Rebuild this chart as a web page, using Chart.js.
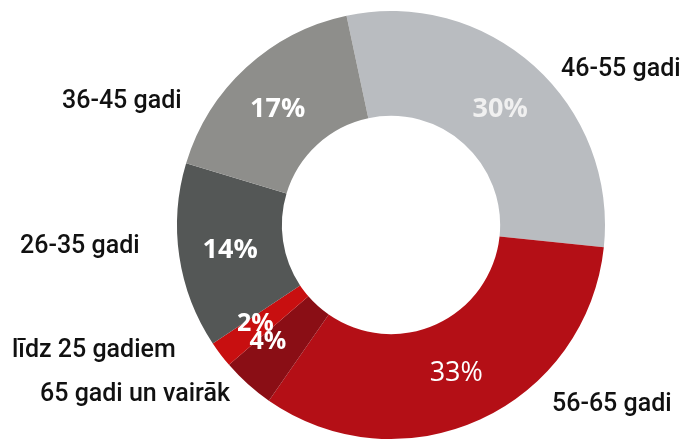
<!DOCTYPE html>
<html>
<head>
<meta charset="utf-8">
<script src="https://cdn.jsdelivr.net/npm/chart.js@4.4.1/dist/chart.umd.min.js"></script>
<style>
  html, body { margin: 0; padding: 0; background: #fff; }
  #wrap { width: 692px; height: 441px; position: relative; }
</style>
</head>
<body>
<div id="wrap"><canvas id="chart"></canvas></div>
<script>
// age groups, clockwise from the top
const labels = ['46-55 gadi', '56-65 gadi', '65 gadi un vairāk', 'līdz 25 gadiem', '26-35 gadi', '36-45 gadi'];
const shares = [30, 33, 4, 2, 14, 17];
const pctLabels = ['30%', '33%', '4%', '2%', '14%', '17%'];
const colors = ['#b9bcc0', '#b40f16', '#8a0e15', '#c80f10', '#545756', '#8e8e8b'];

// where the category names sit (text only)
const namePos = [
    { x: 561, y: 76 },
    { x: 552, y: 411 },
    { x: 40, y: 401 },
    { x: 12, y: 357 },
    { x: 20, y: 253 },
    { x: 62, y: 108 }
];
// small nudges for the percent texts off the slice centre
const pctNudge = [[1, 4], [-2, 1], [-15, -3], [-7, 1], [-1, 2], [-4, 3]];
const pctStyle = ['bold 27px', 'normal 27px', 'bold 25px', 'bold 25px', 'bold 27px', 'bold 27px'];

const labelPlugin = {
    id: 'sliceLabels',
    afterDatasetsDraw(chart) {
        const ctx = chart.ctx;
        const arcs = chart.getDatasetMeta(0).data;
        ctx.save();
        ctx.textBaseline = 'middle';
        ctx.textAlign = 'center';
        arcs.forEach((arc, i) => {
            const p = arc.tooltipPosition();
            ctx.font = pctStyle[i] + ' "Open Sans"';
            ctx.fillStyle = i === 0 ? '#f0f0f0' : '#ffffff';
            ctx.fillText(pctLabels[i], p.x + pctNudge[i][0], p.y + pctNudge[i][1]);
        });
        ctx.textAlign = 'left';
        ctx.textBaseline = 'alphabetic';
        ctx.font = '500 25px Roboto';
        ctx.fillStyle = '#111';
        labels.forEach((t, i) => ctx.fillText(t, namePos[i].x, namePos[i].y));
        ctx.restore();
    }
};

new Chart(document.getElementById('chart'), {
    type: 'doughnut',
    data: {
        labels: labels,
        datasets: [{
            data: shares,
            backgroundColor: colors,
            borderWidth: 0
        }]
    },
    options: {
        responsive: true,
        maintainAspectRatio: false,
        animation: false,
        rotation: -12,
        cutout: '51%',
        layout: { padding: { left: 177, right: 87, top: 11, bottom: 2 } },
        plugins: { legend: { display: false }, tooltip: { enabled: false } }
    },
    plugins: [labelPlugin]
});
</script>
</body>
</html>
